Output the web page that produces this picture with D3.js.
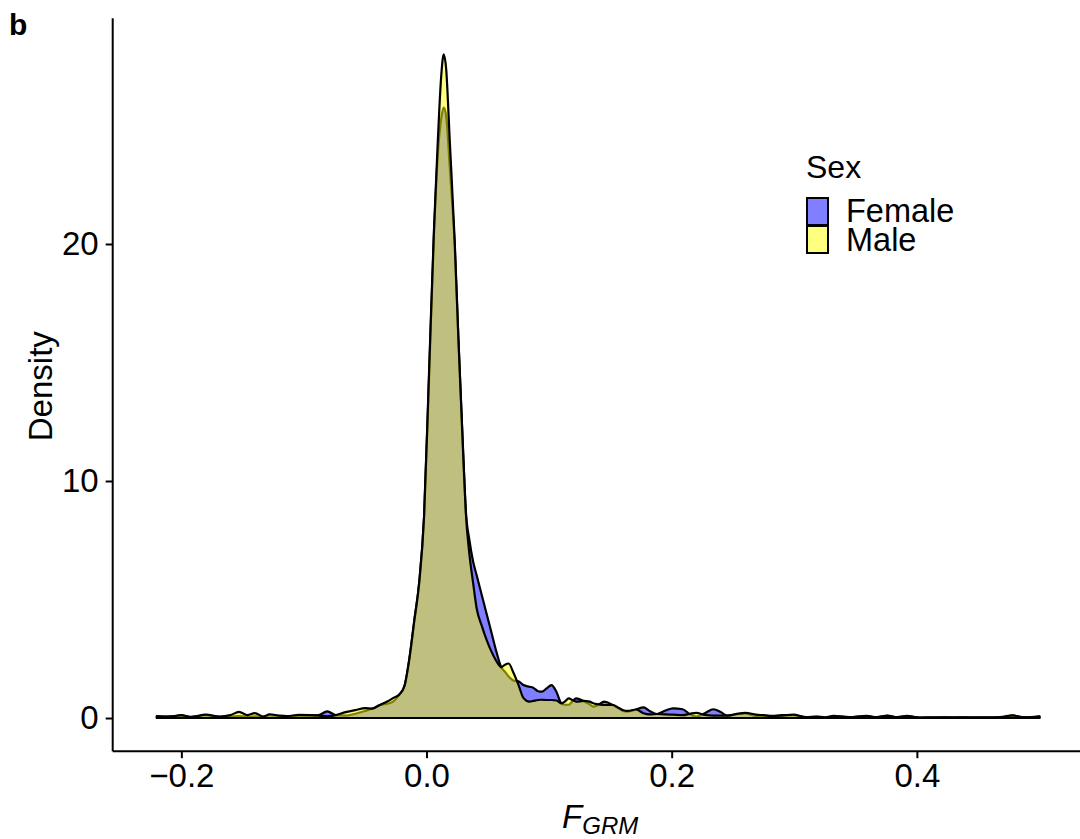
<!DOCTYPE html>
<html>
<head>
  <meta charset="UTF-8">
  <script src="https://d3js.org/d3.v7.min.js"></script>
</head>
<body style="margin:0;background:#fff">
  <svg id="chart"></svg>
<style>
  text { font-family: 'Liberation Sans', Arial, sans-serif; fill: #000; }
  .tick text { font-size: 33px; }
  .tick line, .domain { stroke: #000; stroke-width: 2; }
</style>
<script>
  // F_GRM grid and estimated density curves
  const fgrm = [-0.220, -0.210, -0.200, -0.192, -0.180, -0.169, -0.160, -0.153, -0.146, -0.140,
    -0.133, -0.128, -0.120, -0.114, -0.104, -0.095, -0.088, -0.081, -0.074, -0.066,
    -0.058, -0.050, -0.044, -0.038, -0.032, -0.027, -0.022, -0.018, -0.014, -0.010,
    -0.006, -0.002, 0.002, 0.006, 0.009, 0.012, 0.014, 0.016, 0.019, 0.023,
    0.026, 0.030, 0.032, 0.035, 0.038, 0.041, 0.045, 0.049, 0.053, 0.057,
    0.061, 0.064, 0.067, 0.071, 0.075, 0.079, 0.084, 0.087, 0.091, 0.094,
    0.098, 0.102, 0.106, 0.110, 0.113, 0.116, 0.119, 0.122, 0.128, 0.133,
    0.136, 0.140, 0.145, 0.152, 0.157, 0.160, 0.164, 0.171, 0.177, 0.182,
    0.188, 0.195, 0.201, 0.209, 0.215, 0.220, 0.227, 0.234, 0.240, 0.245,
    0.252, 0.260, 0.269, 0.275, 0.282, 0.290, 0.299, 0.310, 0.318, 0.325,
    0.332, 0.345, 0.359, 0.367, 0.376, 0.384, 0.392, 0.402, 0.415, 0.430,
    0.445, 0.460, 0.470, 0.478, 0.486, 0.493, 0.500];

  const female = [0.06, 0.07, 0.10, 0.05, 0.12, 0.05, 0.06, 0.08, 0.06, 0.07,
    0.05, 0.12, 0.08, 0.07, 0.10, 0.10, 0.12, 0.28, 0.12, 0.10,
    0.18, 0.30, 0.40, 0.55, 0.60, 0.70, 1.00, 1.35, 2.50, 4.10,
    5.70, 8.50, 14.3, 20.3, 23.6, 25.3, 25.75, 25.4, 23.2, 19.9,
    16.0, 11.1, 8.8, 7.5, 6.6, 6.0, 5.2, 4.4, 3.6, 2.8,
    2.14, 1.95, 1.75, 1.58, 1.55, 1.39, 1.32, 1.28, 1.13, 1.11,
    1.25, 1.39, 1.10, 0.62, 0.56, 0.56, 0.70, 0.83, 0.72, 0.58,
    0.48, 0.55, 0.69, 0.55, 0.40, 0.30, 0.27, 0.36, 0.45, 0.30,
    0.17, 0.32, 0.41, 0.37, 0.15, 0.06, 0.20, 0.37, 0.25, 0.10,
    0.15, 0.20, 0.08, 0.10, 0.09, 0.12, 0.12, 0.04, 0.06, 0.03,
    0.07, 0.04, 0.09, 0.04, 0.10, 0.03, 0.09, 0.02, 0.02, 0.03,
    0.02, 0.03, 0.04, 0.10, 0.04, 0.03, 0.06];

  const male = [0.08, 0.05, 0.12, 0.04, 0.14, 0.06, 0.12, 0.26, 0.12, 0.21,
    0.06, 0.16, 0.10, 0.08, 0.13, 0.12, 0.10, 0.07, 0.12, 0.25,
    0.33, 0.42, 0.40, 0.55, 0.70, 0.85, 1.00, 1.35, 2.50, 4.10,
    5.70, 8.50, 14.5, 20.5, 24.1, 27.1, 28.0, 27.4, 24.3, 20.1,
    16.0, 11.0, 8.7, 6.9, 5.7, 4.6, 3.9, 3.3, 2.8, 2.4,
    2.15, 2.25, 2.30, 1.90, 1.40, 0.85, 0.69, 0.72, 0.76, 0.77,
    0.76, 0.76, 0.74, 0.62, 0.70, 0.83, 0.76, 0.69, 0.72, 0.69,
    0.62, 0.58, 0.55, 0.55, 0.42, 0.34, 0.30, 0.36, 0.20, 0.15,
    0.17, 0.15, 0.14, 0.12, 0.18, 0.22, 0.13, 0.10, 0.10, 0.10,
    0.16, 0.22, 0.14, 0.12, 0.08, 0.10, 0.14, 0.03, 0.05, 0.02,
    0.09, 0.03, 0.08, 0.03, 0.09, 0.04, 0.08, 0.02, 0.03, 0.02,
    0.03, 0.02, 0.05, 0.11, 0.03, 0.04, 0.07];

  const groups = ['Female', 'Male'];
  const fills = ['blue', 'yellow'];
  const xTicks = [-0.2, 0.0, 0.2, 0.4];
  const yTicks = [0, 10, 20];

  const width = 1080, height = 839;
  const panel = { left: 112.7, right: 1083.6, top: 21.2, bottom: 751.2 };

  const svg = d3.select('#chart').attr('width', width).attr('height', height);

  // ggplot style 5% expansion
  const xr = d3.extent(fgrm), xpad = (xr[1] - xr[0]) * 0.05;
  const ymax = d3.max(male.concat(female)), ypad = ymax * 0.05;

  const x = d3.scaleLinear().domain([xr[0] - xpad, xr[1] + xpad]).range([panel.left, panel.right]);
  const y = d3.scaleLinear().domain([-ypad, ymax + ypad]).range([panel.bottom, panel.top]);

  const area = d3.area()
    .x(d => x(d[0]))
    .y0(y(0))
    .y1(d => y(d[1]))
    .curve(d3.curveMonotoneX);

  [female, male].forEach((vals, i) => {
    svg.append('path')
      .datum(fgrm.map((v, j) => [v, vals[j]]))
      .attr('d', area)
      .attr('fill', fills[i])
      .attr('fill-opacity', 0.5)
      .attr('stroke', '#000')
      .attr('stroke-width', 2.2)
      .attr('stroke-linejoin', 'round');
  });

  // axes
  svg.append('g')
    .attr('transform', `translate(0,${panel.bottom})`)
    .call(d3.axisBottom(x).tickValues(xTicks).tickSize(7).tickPadding(5)
      .tickFormat(d => d3.format('.1f')(d).replace('-', '\u2212')))
    .call(g => g.select('.domain').attr('d', `M${panel.left},0H${width}`));

  svg.append('g')
    .attr('transform', `translate(${panel.left},0)`)
    .call(d3.axisLeft(y).tickValues(yTicks).tickSize(7).tickPadding(7))
    .call(g => g.select('.domain').attr('d', `M0,${panel.top - 3}V${panel.bottom}`));

  svg.selectAll('.tick text').attr('font-family', null).attr('font-size', null);

  // axis titles
  svg.append('text')
    .attr('transform', `translate(52,${(panel.top + panel.bottom) / 2}) rotate(-90)`)
    .attr('text-anchor', 'middle')
    .style('font-size', '33px')
    .text('Density');

  const xt = svg.append('text')
    .attr('x', (panel.left + panel.right) / 2 + 2)
    .attr('y', 828)
    .attr('text-anchor', 'middle')
    .style('font-size', '33px')
    .style('font-style', 'italic');
  xt.append('tspan').text('F');
  xt.append('tspan').attr('dy', 6).style('font-size', '24px').text('GRM');

  // panel tag
  svg.append('text')
    .attr('x', 9).attr('y', 35)
    .style('font-size', '30px').style('font-weight', 'bold')
    .text('b');

  // legend
  const lg = svg.append('g').attr('transform', 'translate(806,0)');
  lg.append('text').attr('x', 0).attr('y', 178).style('font-size', '32px').text('Sex');
  groups.forEach((g, i) => {
    lg.append('rect')
      .attr('x', 1).attr('y', 198 + i * 28)
      .attr('width', 21).attr('height', 27)
      .attr('fill', fills[i]).attr('fill-opacity', 0.5)
      .attr('stroke', '#000').attr('stroke-width', 2);
    lg.append('text')
      .attr('x', 40).attr('y', 222 + i * 29)
      .style('font-size', '32.5px')
      .text(g);
  });
</script>
</body>
</html>
